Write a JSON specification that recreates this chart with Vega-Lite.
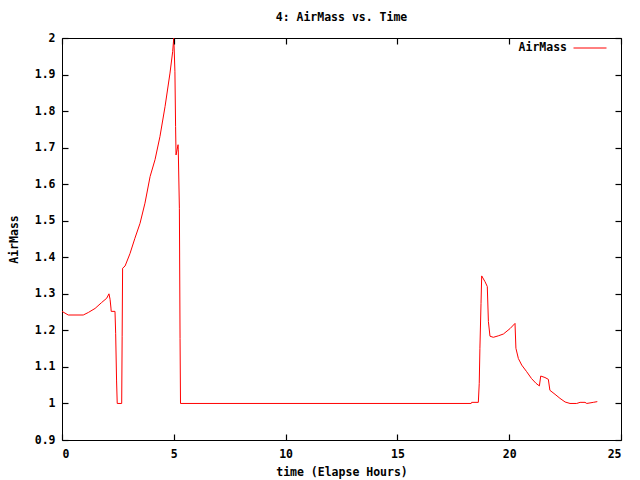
{
  "$schema": "https://vega.github.io/schema/vega-lite/v6.json",
  "width": 559,
  "height": 402,
  "autosize": {"type": "none"},
  "padding": {"left": 62, "top": 38, "right": 19, "bottom": 40},
  "background": "white",
  "title": {"text": "4: AirMass vs. Time", "font": "DejaVu Sans Mono", "fontSize": 11.5, "fontWeight": "bold", "color": "black", "offset": 8},
  "config": {
    "view": {"stroke": "black", "strokeWidth": 1},
    "axis": {"labelFont": "DejaVu Sans Mono", "labelFontSize": 11.5, "labelFontWeight": "bold", "labelColor": "black",
      "titleFont": "DejaVu Sans Mono", "titleFontSize": 11.5, "titleFontWeight": "bold", "titleColor": "black"},
    "legend": {"labelFont": "DejaVu Sans Mono", "labelFontSize": 11.5, "labelFontWeight": "bold", "labelColor": "black"}
  },
  "resolve": {"axis": {"x": "independent", "y": "independent"}},
  "data": {"values": [
    {"t": 0.0, "am": 1.252}, {"t": 0.28, "am": 1.242}, {"t": 0.95, "am": 1.242}, {"t": 1.18, "am": 1.249},
    {"t": 1.48, "am": 1.26}, {"t": 1.77, "am": 1.276}, {"t": 2.0, "am": 1.288}, {"t": 2.1, "am": 1.30},
    {"t": 2.15, "am": 1.285}, {"t": 2.19, "am": 1.261}, {"t": 2.2, "am": 1.252}, {"t": 2.37, "am": 1.252},
    {"t": 2.4, "am": 1.192}, {"t": 2.44, "am": 1.064}, {"t": 2.47, "am": 1.0}, {"t": 2.67, "am": 1.0},
    {"t": 2.69, "am": 1.184}, {"t": 2.71, "am": 1.37}, {"t": 2.82, "am": 1.376}, {"t": 3.04, "am": 1.41},
    {"t": 3.26, "am": 1.452}, {"t": 3.49, "am": 1.493}, {"t": 3.71, "am": 1.548}, {"t": 3.94, "am": 1.621},
    {"t": 4.16, "am": 1.667}, {"t": 4.38, "am": 1.73}, {"t": 4.61, "am": 1.813}, {"t": 4.83, "am": 1.904},
    {"t": 4.95, "am": 1.963}, {"t": 4.98, "am": 1.986}, {"t": 5.0, "am": 2.0}, {"t": 5.05, "am": 1.909},
    {"t": 5.08, "am": 1.758}, {"t": 5.1, "am": 1.68}, {"t": 5.19, "am": 1.708}, {"t": 5.2, "am": 1.694},
    {"t": 5.25, "am": 1.534}, {"t": 5.28, "am": 1.178}, {"t": 5.3, "am": 1.0}, {"t": 18.3, "am": 1.0},
    {"t": 18.32, "am": 1.003}, {"t": 18.62, "am": 1.003}, {"t": 18.66, "am": 1.055}, {"t": 18.69, "am": 1.151},
    {"t": 18.74, "am": 1.274}, {"t": 18.77, "am": 1.349}, {"t": 18.92, "am": 1.333}, {"t": 19.02, "am": 1.32},
    {"t": 19.07, "am": 1.224}, {"t": 19.14, "am": 1.184}, {"t": 19.29, "am": 1.181}, {"t": 19.51, "am": 1.185},
    {"t": 19.74, "am": 1.19}, {"t": 20.04, "am": 1.205}, {"t": 20.26, "am": 1.219}, {"t": 20.3, "am": 1.151},
    {"t": 20.41, "am": 1.123}, {"t": 20.56, "am": 1.105}, {"t": 20.78, "am": 1.087}, {"t": 21.0, "am": 1.068},
    {"t": 21.2, "am": 1.055}, {"t": 21.35, "am": 1.048}, {"t": 21.41, "am": 1.075}, {"t": 21.6, "am": 1.071},
    {"t": 21.75, "am": 1.066}, {"t": 21.82, "am": 1.036}, {"t": 22.05, "am": 1.025}, {"t": 22.27, "am": 1.014},
    {"t": 22.5, "am": 1.004}, {"t": 22.72, "am": 1.0}, {"t": 23.02, "am": 1.0}, {"t": 23.17, "am": 1.003},
    {"t": 23.39, "am": 1.003}, {"t": 23.47, "am": 1.0}, {"t": 23.76, "am": 1.003}, {"t": 23.94, "am": 1.005}
  ]},
  "layer": [
    {
      "mark": {"type": "line", "strokeWidth": 1, "interpolate": "linear"},
      "encoding": {
        "x": {"field": "t", "type": "quantitative", "scale": {"domain": [0, 25], "nice": false},
          "axis": {"orient": "bottom", "zindex": 2, "domain": false, "grid": false, "ticks": true, "tickSize": -6, "tickColor": "black", "tickOpacity": 1, "tickWidth": 1.2, "values": [0, 5, 10, 15, 20, 25], "title": "time (Elapse Hours)", "labelPadding": 14, "titlePadding": 7}},
        "y": {"field": "am", "type": "quantitative", "scale": {"domain": [0.9, 2], "nice": false, "zero": false},
          "axis": {"orient": "left", "zindex": 2, "domain": false, "grid": false, "ticks": true, "tickSize": -6, "tickColor": "black", "tickOpacity": 1, "tickWidth": 1.2, "values": [0.9, 1, 1.1, 1.2, 1.3, 1.4, 1.5, 1.6, 1.7, 1.8, 1.9, 2], "format": "~g", "title": "AirMass", "labelPadding": 13, "titlePadding": 15}},
        "color": {"datum": "AirMass", "scale": {"range": ["#ff0000"]},
          "legend": {"orient": "none", "legendX": 511, "legendY": -7, "title": null, "symbolType": "stroke", "symbolSize": 1089, "symbolStrokeWidth": 1, "labelAlign": "right", "labelOffset": -40, "padding": 0}}
      }
    },
    {
      "mark": {"type": "line", "strokeWidth": 0, "opacity": 0},
      "encoding": {
        "x": {"field": "t", "type": "quantitative", "axis": {"orient": "top", "zindex": 2, "domain": false, "grid": false, "ticks": true, "tickSize": -6, "tickColor": "black", "tickOpacity": 1, "tickWidth": 1.2, "values": [0, 5, 10, 15, 20, 25], "labels": false, "title": null}},
        "y": {"field": "am", "type": "quantitative", "axis": {"orient": "right", "zindex": 2, "domain": false, "grid": false, "ticks": true, "tickSize": -6, "tickColor": "black", "tickOpacity": 1, "tickWidth": 1.2, "values": [0.9, 1, 1.1, 1.2, 1.3, 1.4, 1.5, 1.6, 1.7, 1.8, 1.9, 2], "labels": false, "title": null}}
      }
    }
  ]
}
